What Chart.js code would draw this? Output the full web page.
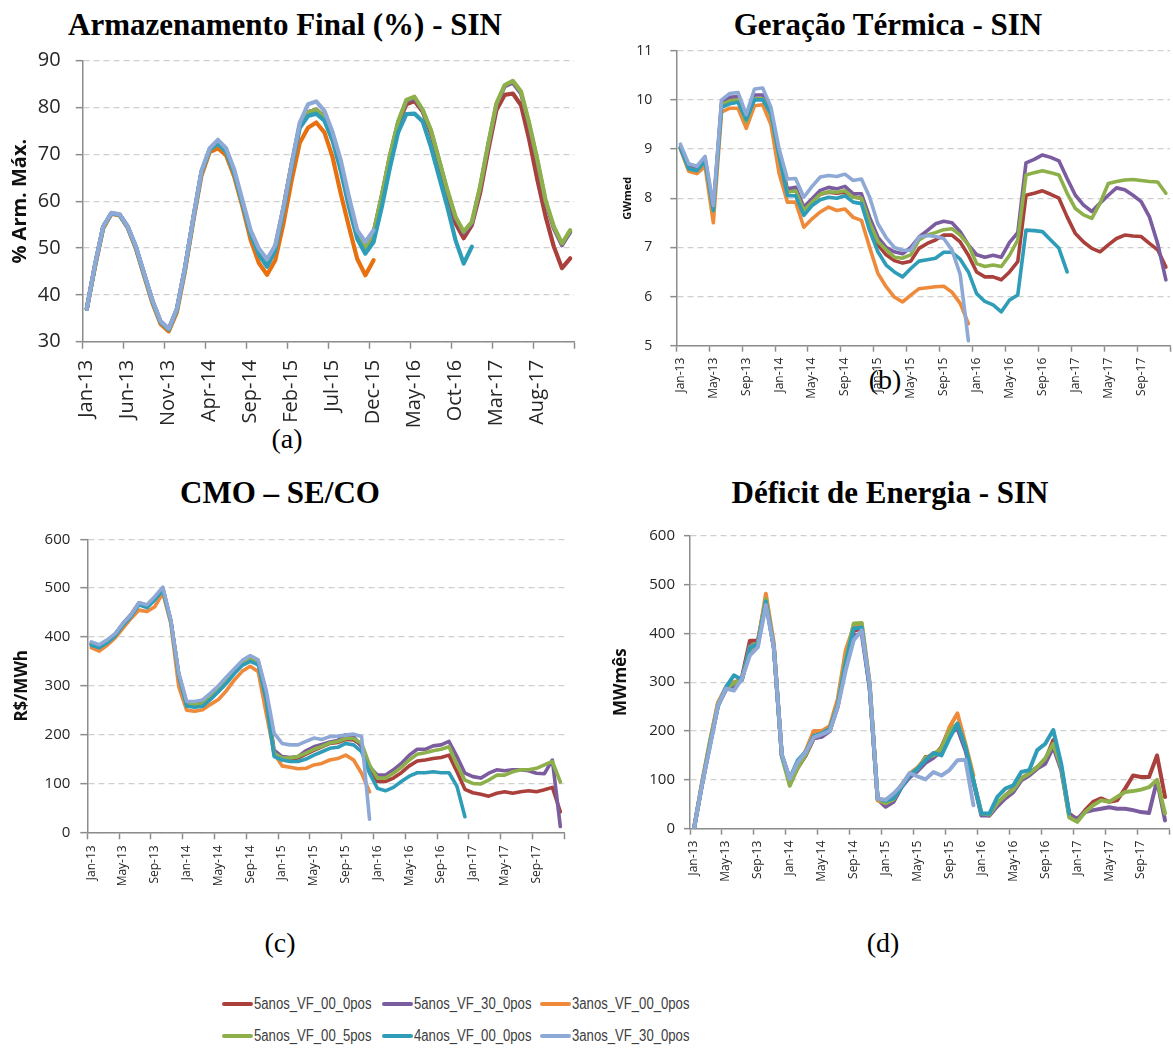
<!DOCTYPE html>
<html>
<head>
<meta charset="utf-8">
<script src="https://cdn.jsdelivr.net/npm/chart.js@4.4.1/dist/chart.umd.min.js"></script>
<style>
  body { margin: 0; background: #fff; width: 1173px; height: 1056px; position: relative; overflow: hidden; }
  canvas { position: absolute; }
  .ttl { position: absolute; font: bold 31px "Liberation Serif", "Times New Roman", serif; line-height: 31px; white-space: nowrap; transform: translateX(-50%); color: #000; }
  .lab { position: absolute; font: 28px "Liberation Serif", "Times New Roman", serif; line-height: 28px; transform: translateX(-50%); color: #000; }
  .lg { position: absolute; height: 20px; white-space: nowrap; font: 16px "Liberation Sans", Arial, sans-serif; color: #404040; line-height: 20px; }
  .lg span.ln { display: inline-block; width: 31px; height: 4px; border-radius: 2px; vertical-align: middle; margin-right: 1px; position: relative; top: -1px; }
  .lg span.tx { display: inline-block; transform: scaleX(0.82); transform-origin: left center; }
</style>
</head>
<body>
<div class="ttl" style="left:285px;top:9px">Armazenamento Final (%) - SIN</div>
<div class="ttl" style="left:888px;top:9px">Geração Térmica - SIN</div>
<div class="ttl" style="left:280px;top:477px">CMO – SE/CO</div>
<div class="ttl" style="left:890px;top:477px">Déficit de Energia - SIN</div>
<div class="lab" style="left:287px;top:425px">(a)</div>
<div class="lab" style="left:885px;top:366px">(b)</div>
<div class="lab" style="left:280px;top:929px">(c)</div>
<div class="lab" style="left:883px;top:929px">(d)</div>

<canvas id="chartA" width="580" height="400" style="left:0;top:40px"></canvas>
<canvas id="chartB" width="573" height="380" style="left:600px;top:30px"></canvas>
<canvas id="chartC" width="575" height="395" style="left:0;top:515px"></canvas>
<canvas id="chartD" width="583" height="400" style="left:590px;top:510px"></canvas>
<div id="legend"></div>

<script>
// categorias: Jan-13 ... Dec-17
const months = ['Jan', 'Feb', 'Mar', 'Apr', 'May', 'Jun', 'Jul', 'Aug', 'Sep', 'Oct', 'Nov', 'Dec'];
const years = ['13', '14', '15', '16', '17'];
const labels = [];
years.forEach(y => months.forEach(m => labels.push(m + '-' + y)));

const seriesNames = ['5anos_VF_00_0pos', '5anos_VF_30_0pos', '3anos_VF_00_0pos',
                     '5anos_VF_00_5pos', '4anos_VF_00_0pos', '3anos_VF_30_0pos'];
const seriesColors = ['#A9403C', '#7B5C9E', '#EE8A3A', '#8DB04B', '#2F9DB8', '#8FA9D6'];
const drawOrder = [6, 5, 4, 3, 2, 1];

// (a) Armazenamento Final (%)
const armRed = [37, 46.3, 54.5, 57.4, 57.1, 54.5, 50.1, 44.4, 38.7, 34.2, 32.6, 36.9, 45.8, 56.3, 66.2, 71, 72.2, 70.6, 66, 59.6, 53, 48.8, 46.4, 50, 58.5, 67.8, 76.3, 79, 79.5, 78, 73.8, 67.5, 59.8, 53, 49.9, 53, 60.9, 69.4, 76.5, 80.7, 81.4, 79.1, 74.5, 68.1, 61, 55.3, 52.1, 54.9, 61.7, 70.9, 79.5, 82.7, 83, 80.5, 73.1, 64.5, 56.7, 50.3, 45.7, 47.8];
const armPurple = [37, 46.3, 54.5, 57.4, 57.1, 54.5, 50.1, 44.4, 38.7, 34.2, 32.6, 36.9, 45.8, 56.3, 66.2, 71, 72.2, 70.6, 66, 59.6, 53, 48.8, 46.4, 50, 58.5, 67.8, 76.3, 79, 79.5, 78, 73.8, 67.5, 59.8, 53, 50, 53.2, 61, 69.6, 76.8, 81.3, 82, 79.3, 75, 68.6, 62.1, 56.4, 53.2, 55.3, 62.8, 72, 80.6, 84.5, 85.3, 83, 76.2, 68.4, 59.8, 54.2, 50.6, 53.4];
const armOrange = [37, 46, 54.2, 57.3, 57, 54.3, 49.8, 44, 38.3, 33.8, 32.2, 36.3, 45.2, 55.8, 65.5, 70.5, 71.3, 69.8, 65.2, 58.8, 51.7, 46.8, 44.3, 47.4, 55.2, 64.4, 72.5, 75.7, 76.8, 74.7, 69.4, 61.6, 54.5, 47.7, 44.2, 47.4];
const armGreen = [37, 46.3, 54.5, 57.4, 57.1, 54.5, 50.1, 44.4, 38.7, 34.2, 32.6, 36.9, 45.8, 56.3, 66.2, 71, 72.2, 70.6, 66, 59.6, 53, 48.8, 46.4, 50, 58.5, 67.8, 76.3, 79, 79.5, 78, 73.8, 67.5, 59.8, 53, 50.1, 53.3, 61.2, 69.8, 77, 81.6, 82.3, 79.5, 75.2, 68.8, 62.4, 56.7, 53.5, 55.6, 63.1, 72.3, 80.9, 84.8, 85.7, 83.4, 76.6, 68.8, 60.2, 54.6, 51, 53.8];
const armTeal = [37, 46.3, 54.5, 57.4, 57.1, 54.5, 50.1, 44.4, 38.7, 34.2, 32.6, 36.9, 45.8, 56.3, 66.2, 71, 72.3, 70.6, 66, 59.6, 53, 48.6, 46, 49.5, 58, 67.2, 75.7, 78.2, 78.7, 77.2, 72.9, 66.5, 58.7, 52, 48.8, 51.3, 58.7, 67.2, 74.7, 78.6, 78.7, 77, 71.6, 65.2, 58.8, 51.7, 46.7, 50.3];
const armLightBlue = [37, 46.5, 54.6, 57.5, 57.2, 54.6, 50.3, 44.6, 38.9, 34.4, 32.8, 37.1, 46, 56.5, 66.5, 71.3, 73.1, 71.3, 66.7, 60.2, 53.8, 49.9, 47.6, 50.6, 58.7, 68, 76.8, 80.7, 81.3, 79.3, 74.7, 68.7, 60.9, 53.8, 51.3, 53.8];

// (b) Geração Térmica (GWmed)
const gerRed = [9.02, 8.6, 8.56, 8.75, 7.72, 9.9, 9.98, 10.0, 9.55, 10.02, 10.02, 9.7, 8.85, 8.15, 8.17, 7.78, 7.93, 8.08, 8.12, 8.1, 8.12, 8.03, 8.0, 7.45, 7.05, 6.85, 6.73, 6.68, 6.72, 6.98, 7.08, 7.15, 7.25, 7.25, 7.11, 6.84, 6.5, 6.4, 6.4, 6.34, 6.5, 6.71, 8.06, 8.1, 8.15, 8.08, 8.0, 7.62, 7.28, 7.11, 6.98, 6.91, 7.05, 7.18, 7.25, 7.23, 7.22, 7.08, 6.95, 6.6];
const gerPurple = [9.05, 8.65, 8.6, 8.8, 7.8, 9.95, 10.05, 10.07, 9.6, 10.1, 10.1, 9.75, 8.9, 8.19, 8.22, 7.82, 7.99, 8.16, 8.22, 8.19, 8.24, 8.09, 8.09, 7.61, 7.21, 7.0, 6.91, 6.87, 7.0, 7.21, 7.34, 7.48, 7.53, 7.5, 7.32, 7.05, 6.85, 6.8, 6.84, 6.8, 7.1, 7.3, 8.72, 8.79, 8.88, 8.83, 8.76, 8.4, 8.06, 7.86, 7.73, 7.9, 8.06, 8.21, 8.17, 8.06, 7.93, 7.62, 7.08, 6.34];
const gerOrange = [9.0, 8.55, 8.5, 8.65, 7.5, 9.75, 9.83, 9.83, 9.42, 9.88, 9.9, 9.5, 8.5, 7.92, 7.92, 7.41, 7.58, 7.72, 7.82, 7.75, 7.78, 7.61, 7.55, 7.0, 6.47, 6.2, 5.99, 5.89, 6.03, 6.16, 6.18, 6.2, 6.21, 6.09, 5.86, 5.45];
const gerGreen = [9.02, 8.6, 8.56, 8.75, 7.74, 9.9, 9.98, 10.0, 9.55, 10.02, 10.02, 9.7, 8.85, 8.12, 8.15, 7.75, 7.92, 8.08, 8.13, 8.12, 8.15, 8.02, 8.0, 7.5, 7.12, 6.95, 6.8, 6.78, 6.85, 7.15, 7.25, 7.3, 7.36, 7.38, 7.25, 7.05, 6.67, 6.61, 6.64, 6.61, 6.84, 7.15, 8.47, 8.52, 8.56, 8.52, 8.47, 8.1, 7.79, 7.66, 7.59, 7.9, 8.3, 8.34, 8.37, 8.38, 8.36, 8.34, 8.33, 8.1];
const gerTeal = [9.02, 8.6, 8.56, 8.75, 7.75, 9.85, 9.92, 9.95, 9.6, 10.0, 10.0, 9.72, 8.85, 8.05, 8.05, 7.65, 7.85, 7.97, 8.02, 8.0, 8.05, 7.92, 7.89, 7.34, 6.91, 6.64, 6.5, 6.4, 6.57, 6.72, 6.75, 6.78, 6.9, 6.9, 6.76, 6.5, 6.06, 5.9, 5.83, 5.69, 5.93, 6.03, 7.35, 7.34, 7.32, 7.15, 6.98, 6.5];
const gerLightBlue = [9.1, 8.7, 8.65, 8.85, 7.85, 10.0, 10.13, 10.15, 9.7, 10.22, 10.24, 9.85, 9.0, 8.39, 8.4, 8.02, 8.24, 8.43, 8.46, 8.44, 8.49, 8.36, 8.39, 8.02, 7.48, 7.2, 7.0, 6.94, 6.94, 7.21, 7.24, 7.22, 7.18, 6.95, 6.45, 5.1];

// (c) CMO - SE/CO (R$/MWh)
const cmoRed = [385, 380, 390, 404, 426, 444, 468, 462, 478, 498, 433, 322, 262, 260, 262, 276, 292, 310, 328, 344, 355, 347, 280, 160, 150, 150, 152, 160, 168, 175, 182, 184, 190, 189, 179, 131, 104, 104, 111, 122, 136, 146, 148, 151, 153, 158, 124, 88, 81, 78, 74, 80, 83, 80, 83, 85, 83, 87, 92, 42];
const cmoPurple = [387, 382, 392, 406, 428, 446, 470, 464, 480, 500, 434, 324, 265, 264, 266, 280, 296, 314, 331, 348, 358, 350, 284, 168, 155, 153, 155, 167, 175, 180, 185, 188, 200, 196, 175, 134, 117, 117, 128, 141, 158, 170, 170, 177, 179, 186, 155, 121, 114, 111, 121, 128, 126, 128, 128, 126, 121, 120, 148, 12];
const cmoOrange = [378, 371, 383, 398, 418, 438, 455, 452, 462, 490, 428, 298, 250, 248, 251, 262, 272, 290, 312, 330, 340, 329, 244, 162, 136, 133, 130, 131, 138, 141, 148, 151, 158, 148, 121, 83];
const cmoGreen = [386, 381, 391, 405, 427, 445, 469, 463, 479, 499, 433, 323, 263, 261, 263, 277, 293, 311, 329, 346, 357, 349, 282, 162, 152, 152, 155, 162, 170, 176, 183, 186, 192, 192, 182, 138, 111, 111, 121, 133, 148, 160, 163, 167, 170, 175, 138, 107, 100, 99, 107, 117, 117, 124, 128, 128, 131, 138, 145, 103];
const cmoTeal = [383, 378, 388, 402, 424, 442, 466, 460, 476, 496, 432, 320, 258, 256, 258, 272, 288, 305, 325, 342, 350, 343, 270, 155, 148, 145, 145, 150, 158, 165, 172, 174, 182, 179, 165, 121, 90, 85, 92, 104, 115, 122, 122, 124, 122, 122, 94, 32];
const cmoLightBlue = [390, 384, 394, 407, 428, 445, 470, 466, 483, 502, 435, 326, 268, 268, 271, 285, 300, 318, 335, 352, 362, 353, 291, 203, 182, 179, 179, 186, 193, 190, 196, 197, 199, 201, 196, 27];

// (d) Déficit de Energia (MWmês)
const defRed = [0, 90, 175, 255, 285, 295, 310, 385, 385, 470, 372, 150, 98, 125, 150, 185, 190, 200, 255, 340, 405, 410, 290, 62, 51, 58, 89, 109, 120, 147, 148, 167, 205, 212, 167, 99, 31, 27, 48, 68, 82, 103, 113, 126, 140, 181, 126, 31, 18, 38, 55, 62, 55, 58, 82, 109, 106, 106, 150, 65];
const defPurple = [0, 90, 172, 252, 285, 290, 305, 375, 378, 465, 370, 150, 98, 128, 152, 185, 188, 200, 250, 335, 395, 400, 288, 60, 45, 55, 85, 105, 118, 135, 145, 160, 195, 205, 160, 95, 27, 27, 46, 62, 75, 99, 109, 123, 133, 167, 120, 27, 21, 34, 38, 41, 44, 41, 41, 38, 34, 32, 99, 17];
const defOrange = [0, 95, 180, 258, 290, 300, 305, 365, 378, 481, 380, 150, 100, 130, 160, 200, 200, 210, 265, 365, 413, 420, 300, 58, 53, 65, 89, 113, 125, 144, 154, 162, 208, 236, 174, 109];
const defGreen = [0, 92, 175, 255, 287, 298, 305, 372, 380, 470, 372, 148, 88, 125, 152, 188, 195, 205, 255, 345, 420, 421, 295, 62, 52, 60, 90, 110, 122, 145, 150, 165, 200, 215, 170, 100, 31, 29, 53, 68, 80, 103, 113, 126, 144, 174, 126, 23, 14, 34, 48, 58, 55, 65, 75, 77, 80, 85, 100, 31];
const defTeal = [0, 90, 172, 250, 290, 314, 305, 370, 378, 465, 372, 150, 103, 140, 158, 190, 195, 205, 252, 340, 410, 412, 292, 62, 57, 62, 85, 109, 123, 140, 155, 150, 185, 215, 167, 99, 31, 31, 65, 82, 89, 116, 120, 161, 174, 202, 133, 31];
const defLightBlue = [0, 90, 168, 252, 287, 283, 307, 355, 372, 458, 372, 153, 102, 136, 157, 187, 193, 200, 249, 324, 386, 406, 297, 62, 59, 72, 89, 114, 107, 101, 116, 109, 120, 140, 141, 48];

Chart.defaults.font.family = "'Open Sans', sans-serif";
const axisGray = '#8c8c8c';
const gridGray = '#cfcfcf';
const tickText = '#262626';

function makeChart(id, values, o) {
    const ctx = document.getElementById(id).getContext('2d');
    return new Chart(ctx, {
        type: 'line',
        data: {
            labels: labels,
            datasets: values.map((v, k) => ({
                label: seriesNames[k],
                data: v,
                borderColor: (k === 2 && o.orange) ? o.orange : seriesColors[k],
                borderWidth: o.lineWidth,
                pointRadius: 0,
                tension: 0,
                fill: false,
                borderJoinStyle: 'round',
                borderCapStyle: 'round',
                order: drawOrder[k]
            }))
        },
        options: {
            responsive: false,
            animation: false,
            layout: { padding: { top: o.padTop, right: o.padRight, left: 0, bottom: 0 } },
            plugins: { legend: { display: false }, tooltip: { enabled: false } },
            scales: {
                x: {
                    offset: true,
                    grid: {
                        offset: true,
                        drawOnChartArea: false,
                        tickLength: o.tickLen,
                        tickWidth: 1.5,
                        tickColor: c => (c.type !== 'tick' || c.index % o.every === 0) ? axisGray : 'rgba(0,0,0,0)'
                    },
                    border: { color: axisGray, width: 1.5 },
                    ticks: {
                        autoSkip: false,
                        minRotation: 90,
                        maxRotation: 90,
                        padding: o.xPad,
                        color: tickText,
                        font: { size: o.xFont },
                        callback: function (val, i) {
                            return i % o.every === 0 ? this.getLabelForValue(val) : '';
                        }
                    },
                    afterFit: s => { s.height = o.xH; s.paddingLeft = 0; s.paddingRight = 0; }
                },
                y: {
                    min: o.yMin,
                    max: o.yMax,
                    ticks: { stepSize: o.step, padding: o.yPad, color: tickText, font: { size: o.yFont } },
                    grid: { color: gridGray, lineWidth: 1.3, tickLength: o.tickLen, tickColor: axisGray, tickWidth: 1.5 },
                    border: { color: axisGray, width: 1.5, dash: [6, 4] },
                    title: {
                        display: true,
                        text: o.yTitle,
                        color: '#111',
                        font: { size: o.yTitleFont, weight: 'bold' },
                        padding: { top: o.yTitlePad, bottom: 0 }
                    },
                    afterFit: s => { s.width = o.yW; s.paddingTop = 0; s.paddingBottom = 0; }
                }
            }
        }
    });
}

makeChart('chartA', [armRed, armPurple, armOrange, armGreen, armTeal, armLightBlue], {
    yMin: 30, yMax: 90, step: 10, every: 5, yW: 82.7, xH: 98.3, padTop: 20.7, padRight: 5.7,
    yFont: 20, xFont: 20, tickLen: 7, yPad: 15, xPad: 11, lineWidth: 4.2, orange: '#E8700E',
    yTitle: '% Arm. Máx.', yTitleFont: 20, yTitlePad: 8
});
makeChart('chartB', [gerRed, gerPurple, gerOrange, gerGreen, gerTeal, gerLightBlue], {
    yMin: 5, yMax: 11, step: 1, every: 4, yW: 76.3, xH: 64.3, padTop: 20.7, padRight: 3,
    yFont: 14, xFont: 12, tickLen: 6, yPad: 18, xPad: 6, lineWidth: 3.6,
    yTitle: 'GWmed', yTitleFont: 11, yTitlePad: 21.4
});
makeChart('chartC', [cmoRed, cmoPurple, cmoOrange, cmoGreen, cmoTeal, cmoLightBlue], {
    yMin: 0, yMax: 600, step: 100, every: 4, yW: 87.3, xH: 77.7, padTop: 24.3, padRight: 10.7,
    yFont: 15, xFont: 12, tickLen: 7, yPad: 10, xPad: 6, lineWidth: 3.6,
    yTitle: 'R$/MWh', yTitleFont: 17, yTitlePad: 11.8
});
makeChart('chartD', [defRed, defPurple, defOrange, defGreen, defTeal, defLightBlue], {
    yMin: 0, yMax: 600, step: 100, every: 4, yW: 100, xH: 81.3, padTop: 25.7, padRight: 4,
    yFont: 15, xFont: 12, tickLen: 6, yPad: 9, xPad: 6, lineWidth: 4,
    yTitle: 'MWmês', yTitleFont: 17, yTitlePad: 20.8
});

// legenda comum (duas linhas)
const legendX = [222, 382, 540];
const legendY = [994, 1026];
const legend = document.getElementById('legend');
seriesNames.forEach((name, k) => {
    const item = document.createElement('div');
    item.className = 'lg';
    item.style.left = legendX[k % 3] + 'px';
    item.style.top = legendY[Math.floor(k / 3)] + 'px';
    item.innerHTML = '<span class="ln" style="background:' + seriesColors[k] + '"></span><span class="tx">' + name + '</span>';
    legend.appendChild(item);
});
</script>
</body>
</html>
